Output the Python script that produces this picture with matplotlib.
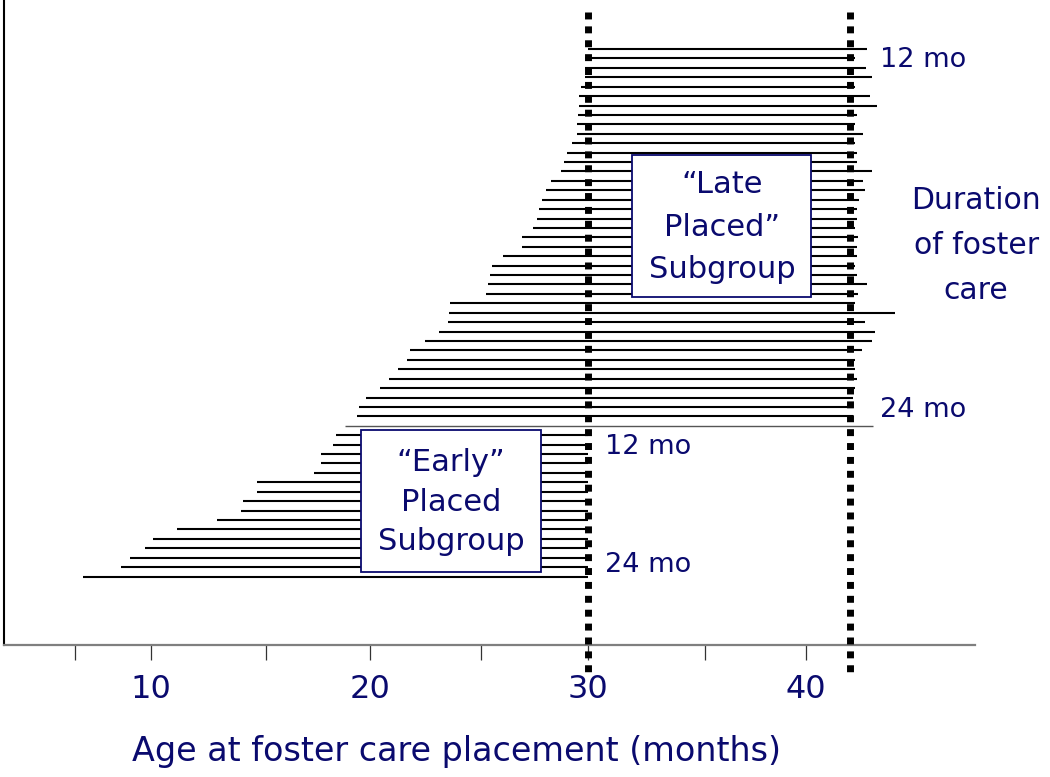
import matplotlib.pyplot as plt
from matplotlib.patches import Rectangle

# age (months) at placement / at end of foster care, one row per child, top to bottom
late_start = [30.0, 29.86, 29.86, 29.86, 29.68, 29.59, 29.59, 29.54, 29.50, 29.50,
              29.27, 29.04, 28.90, 28.76, 28.31, 28.08, 27.89, 27.76, 27.66, 27.48,
              26.98, 26.98, 26.11, 25.60, 25.51, 25.42, 25.33, 23.68, 23.63, 23.59,
              23.17, 22.53, 21.85, 21.71, 21.30, 20.89, 20.47, 19.83, 19.51, 19.42,
              18.87]
late_end = [42.78, 42.23, 42.73, 43.00, 42.23, 42.92, 43.24, 42.32, 42.23, 42.60,
            42.23, 42.32, 42.32, 43.00, 42.60, 42.69, 42.41, 42.32, 42.32, 42.23,
            42.37, 42.32, 42.32, 42.23, 42.32, 42.78, 42.37, 42.23, 44.06, 42.69,
            43.15, 43.03, 42.55, 42.23, 42.23, 42.32, 42.23, 42.14, 42.14, 42.14,
            43.06]
early_start = [18.46, 18.32, 17.77, 17.77, 17.45, 14.84, 14.84, 14.20, 14.10, 13.00,
               11.17, 10.07, 9.71, 9.02, 8.61, 6.87]
early_end = [30.0, 30.0, 30.0, 30.0, 30.0, 30.0, 30.0, 30.0, 30.0, 30.0,
             30.0, 30.0, 30.0, 30.0, 30.0, 30.0]

cutoffs = [30, 42]
major_ticks = [10, 20, 30, 40]
minor_ticks = [6.5, 15.25, 25.1, 35.35]

navy = '#0a0a6e'
plt.rcParams['font.family'] = ['DejaVu Sans']

fig = plt.figure(figsize=(10.5, 7.77), dpi=100)
ax = fig.add_axes([0.0038, 0.1699, 0.9248, 0.8301])

n_late = len(late_start)
for i in range(n_late):
    if i == n_late - 1:
        ax.hlines(i, late_start[i], late_end[i], color='#555555', lw=1.0)
    else:
        ax.hlines(i, late_start[i], late_end[i], color='black', lw=1.5)
for j in range(len(early_start)):
    ax.hlines(n_late + j, early_start[j], early_end[j], color='black', lw=1.5)

for c in cutoffs:
    ax.plot([c, c], [-3.9, 66.1], color='black', lw=5, linestyle=(0, (1, 1)),
            dash_capstyle='butt', clip_on=False, zorder=4)

ax.set_xlim(3.25, 47.73)
ax.set_ylim(63.27, -5.2)

ax.spines['top'].set_visible(False)
ax.spines['right'].set_visible(False)
ax.spines['left'].set_linewidth(1.5)
ax.spines['bottom'].set_linewidth(1.6)
ax.spines['bottom'].set_color('#7f7f7f')
ax.set_yticks([])
ax.set_xticks(major_ticks)
ax.set_xticks(minor_ticks, minor=True)
ax.tick_params(axis='x', which='both', direction='out', length=11, width=0.9,
               color='#333333')
ax.tick_params(axis='x', which='major', labelsize=23, labelcolor=navy, pad=10)

fig.text(456 / 1050, 1 - 752 / 777, 'Age at foster care placement (months)',
         ha='center', va='center', fontsize=24, color=navy)

# subgroup boxes
ax.add_patch(Rectangle((32.02, 11.25), 8.2, 15.08, facecolor='white',
                       edgecolor=navy, lw=1.3, zorder=5))
ax.text(36.14, 18.9, '\u201cLate\nPlaced\u201d\nSubgroup', ha='center', va='center',
        fontsize=22, color=navy, linespacing=1.6, zorder=6)
ax.add_patch(Rectangle((19.6, 40.45), 8.25, 15.05, facecolor='white',
                       edgecolor=navy, lw=1.3, zorder=5))
ax.text(23.72, 48.1, '\u201cEarly\u201d\nPlaced\nSubgroup', ha='center', va='center',
        fontsize=22, color=navy, linespacing=1.45, zorder=6)

# duration labels
ax.text(43.38, 1.17, '12 mo', ha='left', va='center', fontsize=19.5, color=navy)
ax.text(43.38, 38.3, '24 mo', ha='left', va='center', fontsize=19.5, color=navy)
ax.text(30.78, 42.25, '12 mo', ha='left', va='center', fontsize=19.5, color=navy)
ax.text(30.78, 54.8, '24 mo', ha='left', va='center', fontsize=19.5, color=navy)
ax.text(47.78, 20.9, 'Duration\nof foster\ncare', ha='center', va='center',
        fontsize=21.5, color=navy, linespacing=1.7)

fig.savefig('out.png', dpi=100)
